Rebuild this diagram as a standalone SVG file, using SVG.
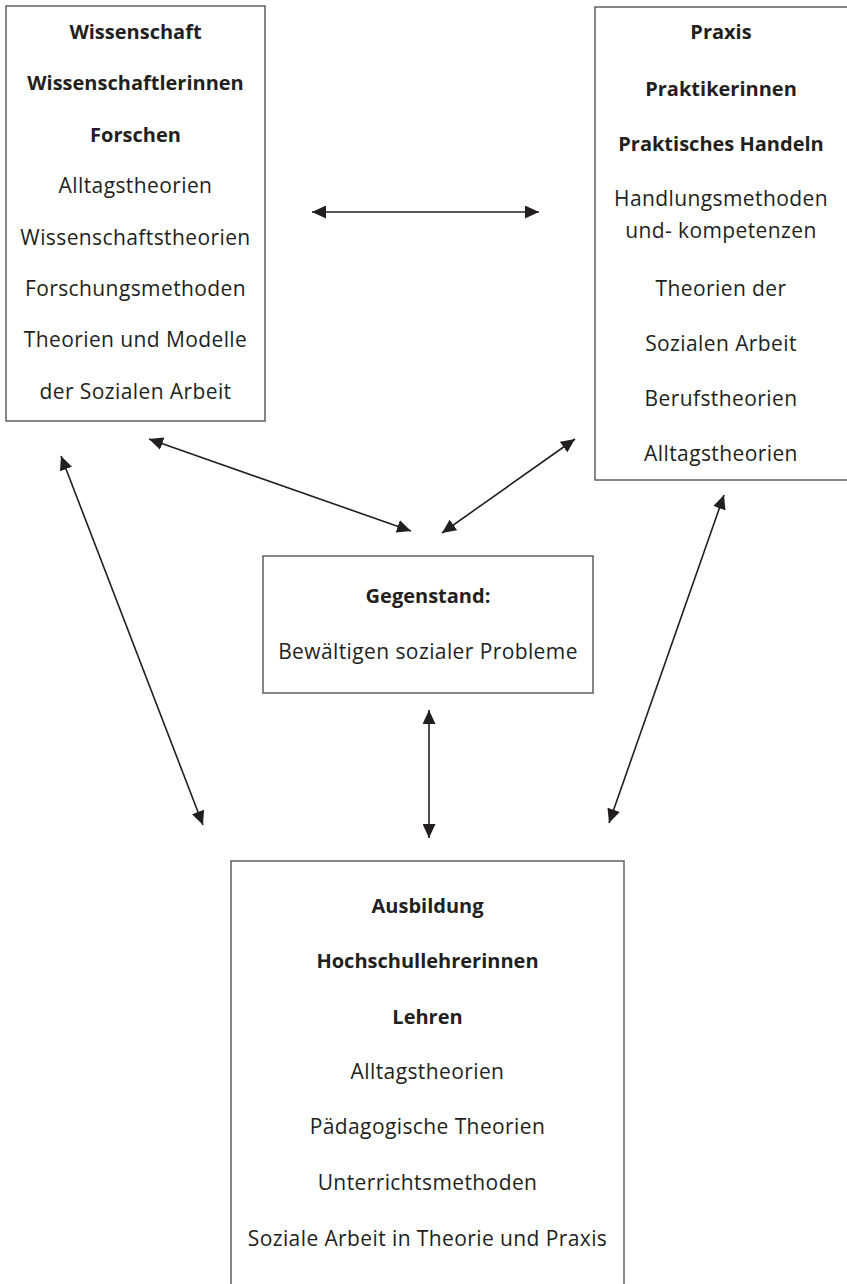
<svg xmlns="http://www.w3.org/2000/svg" width="847" height="1284" viewBox="0 0 847 1284">
<style>
.box{fill:#fff;stroke:#555;stroke-width:1.4}
text{font-family:"Open Sans","Noto Sans","Liberation Sans",sans-serif;font-size:21px;letter-spacing:0.4px;fill:#231f20;text-anchor:middle}
.b{font-weight:bold;font-size:20px;letter-spacing:0}
.con line{stroke:#231f20;stroke-width:1.6;marker-start:url(#ah);marker-end:url(#ah)}
</style>
<defs>
<marker id="ah" markerUnits="userSpaceOnUse" markerWidth="15" markerHeight="13" refX="14" refY="6.5" orient="auto-start-reverse">
<path d="M0,0 L14,6.5 L0,13 Z" fill="#231f20"/>
</marker>
</defs>
<rect width="847" height="1284" fill="#fff"/>
<g id="wissenschaft">
<rect class="box" x="6" y="6" width="259" height="415"/>
<text class="b" x="135.5" y="39">Wissenschaft</text>
<text class="b" x="135.5" y="90">Wissenschaftlerinnen</text>
<text class="b" x="135.5" y="142">Forschen</text>
<text x="135.5" y="193">Alltagstheorien</text>
<text x="135.5" y="245">Wissenschaftstheorien</text>
<text x="135.5" y="296">Forschungsmethoden</text>
<text x="135.5" y="347">Theorien und Modelle</text>
<text x="135.5" y="399">der Sozialen Arbeit</text>
</g>
<g id="praxis">
<rect class="box" x="595" y="7" width="256" height="473"/>
<text class="b" x="721" y="39">Praxis</text>
<text class="b" x="721" y="96">Praktikerinnen</text>
<text class="b" x="721" y="151">Praktisches Handeln</text>
<text x="721" y="206">Handlungsmethoden</text>
<text x="721" y="238">und- kompetenzen</text>
<text x="721" y="296">Theorien der</text>
<text x="721" y="351">Sozialen Arbeit</text>
<text x="721" y="406">Berufstheorien</text>
<text x="721" y="461">Alltagstheorien</text>
</g>
<g id="gegenstand">
<rect class="box" x="263" y="556" width="330" height="137"/>
<text class="b" x="428" y="603">Gegenstand:</text>
<text x="428" y="659">Bewältigen sozialer Probleme</text>
</g>
<g id="ausbildung">
<rect class="box" x="231" y="861" width="393" height="440"/>
<text class="b" x="427.5" y="913">Ausbildung</text>
<text class="b" x="427.5" y="968">Hochschullehrerinnen</text>
<text class="b" x="427.5" y="1024">Lehren</text>
<text x="427.5" y="1079">Alltagstheorien</text>
<text x="427.5" y="1134">Pädagogische Theorien</text>
<text x="427.5" y="1190">Unterrichtsmethoden</text>
<text x="427.5" y="1246">Soziale Arbeit in Theorie und Praxis</text>
</g>
<g id="connectors" class="con">
<line x1="312" y1="212" x2="539" y2="212"/>
<line x1="149" y1="439" x2="411" y2="531"/>
<line x1="575" y1="439" x2="442" y2="533"/>
<line x1="61" y1="456" x2="203" y2="825"/>
<line x1="724" y1="495" x2="609" y2="823"/>
<line x1="429" y1="710" x2="429" y2="838"/>
</g>
</svg>
